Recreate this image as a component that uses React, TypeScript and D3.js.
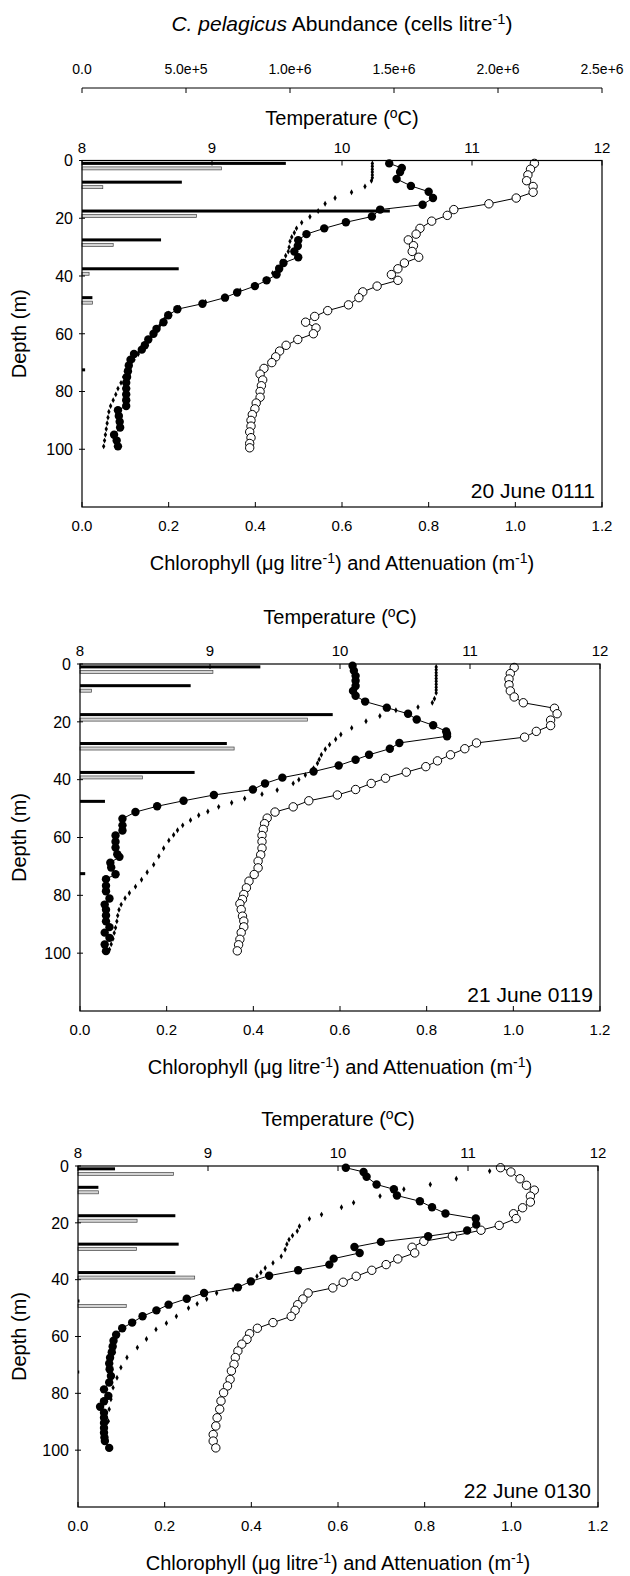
import React from 'react';
import * as d3 from 'd3';

// depth profiles: [depth m, value]
const tempJune20: [number, number][] = [
  [1, 11.48], [3, 11.45], [5, 11.43], [7, 11.42], [9, 11.47], [11, 11.47], [13, 11.34], [15, 11.13],
  [17, 10.86], [19, 10.81], [21, 10.69], [23.5, 10.6], [25.5, 10.57], [27.5, 10.51], [29.5, 10.55],
  [31.5, 10.54], [33.5, 10.59], [35.5, 10.48], [37.5, 10.43], [39.5, 10.38], [41.5, 10.43], [43.5, 10.27],
  [45.5, 10.16], [47.5, 10.13], [50, 10.05], [52, 9.89], [54, 9.79], [56, 9.72], [58, 9.8], [60, 9.78],
  [62, 9.66], [64, 9.57], [66, 9.52], [68, 9.49], [70, 9.46], [72, 9.4], [74, 9.37], [76, 9.39],
  [78, 9.38], [80, 9.37], [82, 9.37], [84, 9.34], [86, 9.33], [88, 9.31], [90, 9.3], [92, 9.3],
  [94, 9.29], [96, 9.3], [98, 9.29], [99.5, 9.29],
];
const chlJune20: [number, number][] = [
  [1, 0.709], [2.6, 0.738], [4, 0.734], [6.4, 0.726], [8.8, 0.759], [10.8, 0.8], [13, 0.81], [15.3, 0.786],
  [17, 0.688], [19.4, 0.669], [21.4, 0.609], [23.5, 0.559], [25.5, 0.518], [27.6, 0.499], [29.6, 0.498],
  [31.5, 0.49], [33.5, 0.499], [35.5, 0.465], [37.5, 0.455], [39.5, 0.449], [41.5, 0.426], [43.5, 0.399],
  [45.7, 0.358], [47.5, 0.33], [49.6, 0.278], [51.5, 0.22], [53.6, 0.199], [56, 0.188], [58.3, 0.172],
  [60, 0.165], [62, 0.153], [64, 0.145], [65.5, 0.138], [67, 0.12], [69, 0.112], [71, 0.108], [73, 0.106],
  [75, 0.104], [77, 0.102], [79, 0.102], [81, 0.102], [83, 0.102], [85, 0.102], [86.5, 0.083],
  [88.5, 0.085], [90.5, 0.087], [92.5, 0.088], [95, 0.074], [97, 0.08], [99, 0.083],
];
const attJune20: [number, number][] = [
  [1, 0.67], [2, 0.67], [3, 0.67], [4, 0.67], [5, 0.67], [6, 0.67], [7, 0.668], [9, 0.653], [11, 0.622],
  [13, 0.584], [15, 0.561], [17.5, 0.545], [19.5, 0.526], [21.5, 0.507], [23.5, 0.495], [25, 0.49],
  [26.5, 0.484], [28, 0.48], [30, 0.478], [31.5, 0.476], [33, 0.47], [35, 0.46], [37, 0.45], [39, 0.44],
  [41, 0.425], [43, 0.4], [45, 0.365], [47, 0.33], [49, 0.285], [51, 0.225], [53, 0.2], [55, 0.19],
  [57, 0.18], [59, 0.17], [61, 0.16], [63, 0.15], [65, 0.14], [67, 0.13], [69, 0.12], [71, 0.112],
  [73, 0.104], [75, 0.096], [77, 0.09], [79, 0.083], [81, 0.078], [83, 0.072], [85, 0.066], [87, 0.062],
  [89, 0.06], [91, 0.058], [93, 0.056], [95, 0.054], [97, 0.052], [99, 0.05],
];

const tempJune21: [number, number][] = [
  [1.2, 11.34], [3.3, 11.31], [5.2, 11.3], [7.2, 11.3], [9.3, 11.31], [11.4, 11.34], [13.4, 11.41],
  [15.3, 11.65], [17.2, 11.67], [19.4, 11.62], [21.3, 11.62], [23.3, 11.51], [25.3, 11.42], [27.3, 11.05],
  [29.3, 10.96], [31.4, 10.85], [33.5, 10.75], [35.5, 10.66], [37.4, 10.51], [39.5, 10.35], [41.3, 10.24],
  [43.4, 10.12], [45.3, 9.98], [47.3, 9.76], [49.4, 9.64], [51.2, 9.5], [53.3, 9.44], [55.2, 9.42],
  [57.2, 9.41], [59.3, 9.4], [61.4, 9.4], [63.7, 9.4], [66, 9.39], [68.2, 9.37], [70.5, 9.37],
  [72.8, 9.34], [75.1, 9.3], [77.4, 9.28], [79.7, 9.26], [81.4, 9.25], [82.9, 9.23], [84.9, 9.24],
  [87.2, 9.25], [88.9, 9.26], [90.9, 9.26], [92.9, 9.24], [95.2, 9.23], [97.1, 9.22], [99.2, 9.21],
];
const chlJune21: [number, number][] = [
  [0.6, 0.629], [2.3, 0.632], [4.1, 0.636], [5.8, 0.636], [7.6, 0.636], [9.3, 0.63], [11, 0.636],
  [13, 0.658], [15.1, 0.708], [17.2, 0.757], [19.2, 0.777], [21.2, 0.815], [23.3, 0.845], [24.2, 0.847],
  [25, 0.847], [27.3, 0.737], [29.3, 0.715], [31.4, 0.667], [33.1, 0.636], [35.1, 0.597], [37.2, 0.539],
  [39.3, 0.467], [41.3, 0.427], [43.4, 0.399], [45.3, 0.309], [47.3, 0.239], [49.2, 0.178], [51.2, 0.128],
  [53.5, 0.098], [55.8, 0.098], [57.6, 0.098], [59.3, 0.082], [61.5, 0.082], [63.5, 0.082], [65.8, 0.086],
  [66.7, 0.091], [68.7, 0.07], [70.4, 0.072], [72.7, 0.082], [74.4, 0.06], [76.7, 0.06], [78.6, 0.06],
  [81.1, 0.068], [83.2, 0.057], [85, 0.06], [87, 0.06], [89, 0.06], [91, 0.068], [92.9, 0.057],
  [94.7, 0.068], [97, 0.057], [99.3, 0.06],
];
const attJune21: [number, number][] = [
  [1, 0.822], [2, 0.822], [3, 0.822], [4, 0.822], [5, 0.822], [6, 0.822], [7, 0.822], [8, 0.822],
  [9, 0.822], [10, 0.822], [12, 0.818], [13.4, 0.813], [14.9, 0.78], [16, 0.729], [18, 0.692], [19.8, 0.66],
  [22.1, 0.627], [24.4, 0.602], [26, 0.59], [27.9, 0.576], [29.5, 0.566], [31.4, 0.557], [33, 0.552],
  [34.3, 0.548], [36, 0.539], [38.4, 0.52], [40, 0.505], [41.3, 0.492], [43.6, 0.455], [45, 0.42],
  [46.5, 0.38], [48, 0.35], [49.4, 0.32], [51, 0.295], [52.3, 0.274], [54, 0.255], [55.8, 0.237],
  [57.5, 0.225], [59.1, 0.216], [61, 0.205], [63.7, 0.193], [66.5, 0.182], [69.4, 0.17], [72, 0.155],
  [74.6, 0.142], [77, 0.128], [79.2, 0.114], [81, 0.104], [83.2, 0.095], [85, 0.09], [87, 0.087],
  [89, 0.085], [91.2, 0.082], [93, 0.079], [95, 0.076], [96.9, 0.072], [98.7, 0.068],
];

const tempJune22: [number, number][] = [
  [0.6, 11.25], [2.1, 11.33], [4.5, 11.4], [6.8, 11.45], [8.5, 11.51], [10.6, 11.48], [12.7, 11.48],
  [14.7, 11.42], [16.8, 11.35], [18.5, 11.37], [20.9, 11.24], [22.6, 11.1], [24.7, 10.88], [26.5, 10.66],
  [28.6, 10.57], [30.6, 10.59], [32.7, 10.46], [34.7, 10.37], [36.7, 10.26], [38.8, 10.14], [40.9, 10.04],
  [42.9, 9.96], [44.7, 9.77], [46.8, 9.73], [48.8, 9.69], [50.8, 9.67], [52.9, 9.64], [55.1, 9.5],
  [57.1, 9.38], [59, 9.32], [61, 9.3], [62.7, 9.26], [65.1, 9.23], [67.4, 9.21], [69.8, 9.2], [72.1, 9.18],
  [75.1, 9.17], [77.4, 9.15], [79.8, 9.12], [82.7, 9.1], [85.6, 9.09], [88.6, 9.07], [91.5, 9.06],
  [94.5, 9.04], [96.8, 9.04], [99.2, 9.06],
];
const chlJune22: [number, number][] = [
  [0.6, 0.618], [2.1, 0.659], [3.8, 0.666], [6.5, 0.689], [8.2, 0.729], [10.4, 0.736], [12.4, 0.789],
  [14.5, 0.817], [16.7, 0.848], [18.5, 0.918], [20.6, 0.919], [22.7, 0.898], [24.7, 0.808], [26.7, 0.699],
  [28.5, 0.638], [30.6, 0.65], [32.6, 0.59], [34.7, 0.58], [36.7, 0.508], [38.6, 0.441], [40.6, 0.399],
  [42.7, 0.369], [44.7, 0.291], [46.7, 0.251], [48.8, 0.209], [50.8, 0.181], [52.9, 0.149], [55.1, 0.125],
  [57.1, 0.102], [59.4, 0.088], [61.5, 0.082], [63.5, 0.08], [65.5, 0.078], [67.5, 0.074], [69.5, 0.072],
  [71.5, 0.073], [73.9, 0.076], [76.2, 0.072], [78.6, 0.06], [80.9, 0.07], [82.8, 0.06], [84.7, 0.051],
  [86.8, 0.06], [88.6, 0.06], [90.4, 0.06], [92.2, 0.06], [93.9, 0.06], [95.5, 0.061], [96.8, 0.062],
  [99.2, 0.072],
];
const attJune22: [number, number][] = [
  [1.8, 0.95], [4.5, 0.873], [6.5, 0.813], [8.2, 0.752], [10.6, 0.697], [12.9, 0.636], [14.5, 0.608],
  [17.1, 0.562], [18.6, 0.534], [21.2, 0.511], [22.9, 0.506], [24.5, 0.495], [25.9, 0.487], [27.5, 0.482],
  [29.4, 0.478], [31.8, 0.469], [34.1, 0.45], [35.9, 0.432], [37.5, 0.422], [38.8, 0.413], [41.2, 0.395],
  [43.5, 0.358], [44.7, 0.32], [46.8, 0.297], [48.5, 0.275], [50, 0.255], [52.9, 0.227], [55.3, 0.204],
  [57.5, 0.18], [60.9, 0.158], [63.9, 0.137], [67.4, 0.113], [70.9, 0.099], [74.5, 0.09], [78, 0.081],
  [82.1, 0.076], [85.6, 0.072], [89.8, 0.07],
];

// C. pelagicus abundance (cells/litre) at the bottle depths: black bar, then the shaded one below it
const sampleDepths = [1, 7.5, 17.5, 27.5, 37.5, 47.5, 72.5];
const cellsJune20 = [980000, 480000, 1480000, 380000, 465000, 50000, 15000];
const liths20 = [670000, 100000, 550000, 150000, 34000, 50000, 0];
const cellsJune21 = [867000, 532000, 1215000, 706000, 551000, 120000, 25000];
const liths21 = [639000, 56000, 1093000, 741000, 300000, 0, 0];
const cellsJune22 = [178000, 98000, 468000, 484000, 468000, 7000, 6000];
const liths22 = [459000, 98000, 284000, 281000, 561000, 232000, 0];

const tempTicks = [8, 9, 10, 11, 12];
const chlTicks = [0, 0.2, 0.4, 0.6, 0.8, 1.0, 1.2];
const depthTicks = [0, 20, 40, 60, 80, 100];
const abundTicks = [0, 500000, 1000000, 1500000, 2000000, 2500000];

const panels = [
  { label: '20 June 0111', top: 160.5, bottom: 507, left: 82, right: 602, titleGap: 36, temp: tempJune20, chl: chlJune20, att: attJune20, cells: cellsJune20, liths: liths20 },
  { label: '21 June 0119', top: 664, bottom: 1011, left: 80, right: 600, titleGap: 40, temp: tempJune21, chl: chlJune21, att: attJune21, cells: cellsJune21, liths: liths21 },
  { label: '22 June 0130', top: 1166, bottom: 1507, left: 78, right: 598, titleGap: 40, temp: tempJune22, chl: chlJune22, att: attJune22, cells: cellsJune22, liths: liths22 },
];

const FONT = '"Liberation Sans", Arial, sans-serif';

function Sup({ children }: { children: string }) {
  return <tspan dy={-7} fontSize="0.7em">{children}</tspan>;
}

function Panel({ p, first }: { p: typeof panels[0]; first: boolean }) {
  const x = d3.scaleLinear().domain([0, 1.2]).range([p.left, p.right]);
  const xT = d3.scaleLinear().domain([8, 12]).range([p.left, p.right]);
  const xA = d3.scaleLinear().domain([0, 2500000]).range([p.left, p.right]);
  const y = d3.scaleLinear().domain([0, 120]).range([p.top, p.bottom]);
  const cx = (p.left + p.right) / 2;
  const line = d3.line<[number, number]>();
  const barH = 3;
  const diamond = d3.symbol(d3.symbolDiamond, 10)()!;

  return (
    <g>
      {first && (
        <g>
          <text x={cx} y={31} textAnchor="middle" fontSize={21}>
            <tspan fontStyle="italic">C. pelagicus</tspan> Abundance (cells litre<Sup>-1</Sup><tspan dy={7}>)</tspan>
          </text>
          <line x1={p.left} x2={p.right} y1={88} y2={88} stroke="#000" />
          {abundTicks.map(t => (
            <g key={t}>
              <line x1={xA(t)} x2={xA(t)} y1={88} y2={93} stroke="#000" />
              <text x={xA(t)} y={74} textAnchor="middle" fontSize={14}>
                {t === 0 ? '0.0' : d3.format('.1e')(t)}
              </text>
            </g>
          ))}
        </g>
      )}
      <text x={cx} y={p.top - p.titleGap} textAnchor="middle" fontSize={20}>
        Temperature (<Sup>o</Sup><tspan dy={7}>C)</tspan>
      </text>
      {tempTicks.map(t => (
        <g key={t}>
          <text x={xT(t)} y={p.top - 8} textAnchor="middle" fontSize={15}>{t}</text>
          <line x1={xT(t)} x2={xT(t)} y1={p.top} y2={p.top + 5} stroke="#000" />
        </g>
      ))}

      {/* abundance bars */}
      {sampleDepths.map((d, i) => (
        <g key={d}>
          {p.cells[i] > 0 && (
            <rect x={p.left} y={y(d) - barH / 2} width={xA(p.cells[i]) - p.left} height={barH} fill="#000" />
          )}
          {p.liths[i] > 0 && (
            <rect x={p.left} y={y(d) + barH / 2 + 2} width={xA(p.liths[i]) - p.left} height={barH}
              fill="#d4d4d4" stroke="#444" strokeWidth={0.7} />
          )}
        </g>
      ))}

      {/* attenuation */}
      {p.att.map(([d, v], i) => (
        <path key={i} d={diamond} transform={`translate(${x(v)},${y(d)})`} fill="#000" />
      ))}

      {/* temperature */}
      <path d={line(p.temp.map(([d, v]) => [xT(v), y(d)]))!} fill="none" stroke="#000" strokeWidth={1} />
      {p.temp.map(([d, v], i) => (
        <circle key={i} cx={xT(v)} cy={y(d)} r={4.2} fill="#fff" stroke="#000" strokeWidth={1} />
      ))}

      {/* chlorophyll */}
      <path d={line(p.chl.map(([d, v]) => [x(v), y(d)]))!} fill="none" stroke="#000" strokeWidth={1} />
      {p.chl.map(([d, v], i) => (
        <circle key={i} cx={x(v)} cy={y(d)} r={4.2} fill="#000" />
      ))}

      <rect x={p.left} y={p.top} width={p.right - p.left} height={p.bottom - p.top} fill="none" stroke="#000" strokeWidth={1.2} />

      {depthTicks.map(t => (
        <g key={t}>
          <line x1={p.left - 3} x2={p.left + 3} y1={y(t)} y2={y(t)} stroke="#000" />
          <text x={p.left - 9} y={y(t)} dy="0.36em" textAnchor="end" fontSize={16}>{t}</text>
        </g>
      ))}
      <text transform={`translate(26,${(p.top + p.bottom) / 2}) rotate(-90)`} textAnchor="middle" fontSize={20}>
        Depth (m)
      </text>

      {chlTicks.map(t => (
        <g key={t}>
          <line x1={x(t)} x2={x(t)} y1={p.bottom} y2={p.bottom - 5} stroke="#000" />
          <text x={x(t)} y={p.bottom + 24} textAnchor="middle" fontSize={15}>{d3.format('.1f')(t)}</text>
        </g>
      ))}
      <text x={cx} y={p.bottom + 63} textAnchor="middle" fontSize={20}>
        Chlorophyll (μg litre<Sup>-1</Sup><tspan dy={7}>) and Attenuation (m</tspan><Sup>-1</Sup><tspan dy={7}>)</tspan>
      </text>
      <text x={p.right - 7} y={p.bottom - 9} textAnchor="end" fontSize={21}>{p.label}</text>
    </g>
  );
}

export default function App() {
  return (
    <svg width={630} height={1576} style={{ position: 'absolute', left: 0, top: 0, background: '#fff' }}
      fontFamily={FONT}>
      <rect width={630} height={1576} fill="#fff" />
      {panels.map((p, i) => <Panel key={p.label} p={p} first={i === 0} />)}
    </svg>
  );
}
